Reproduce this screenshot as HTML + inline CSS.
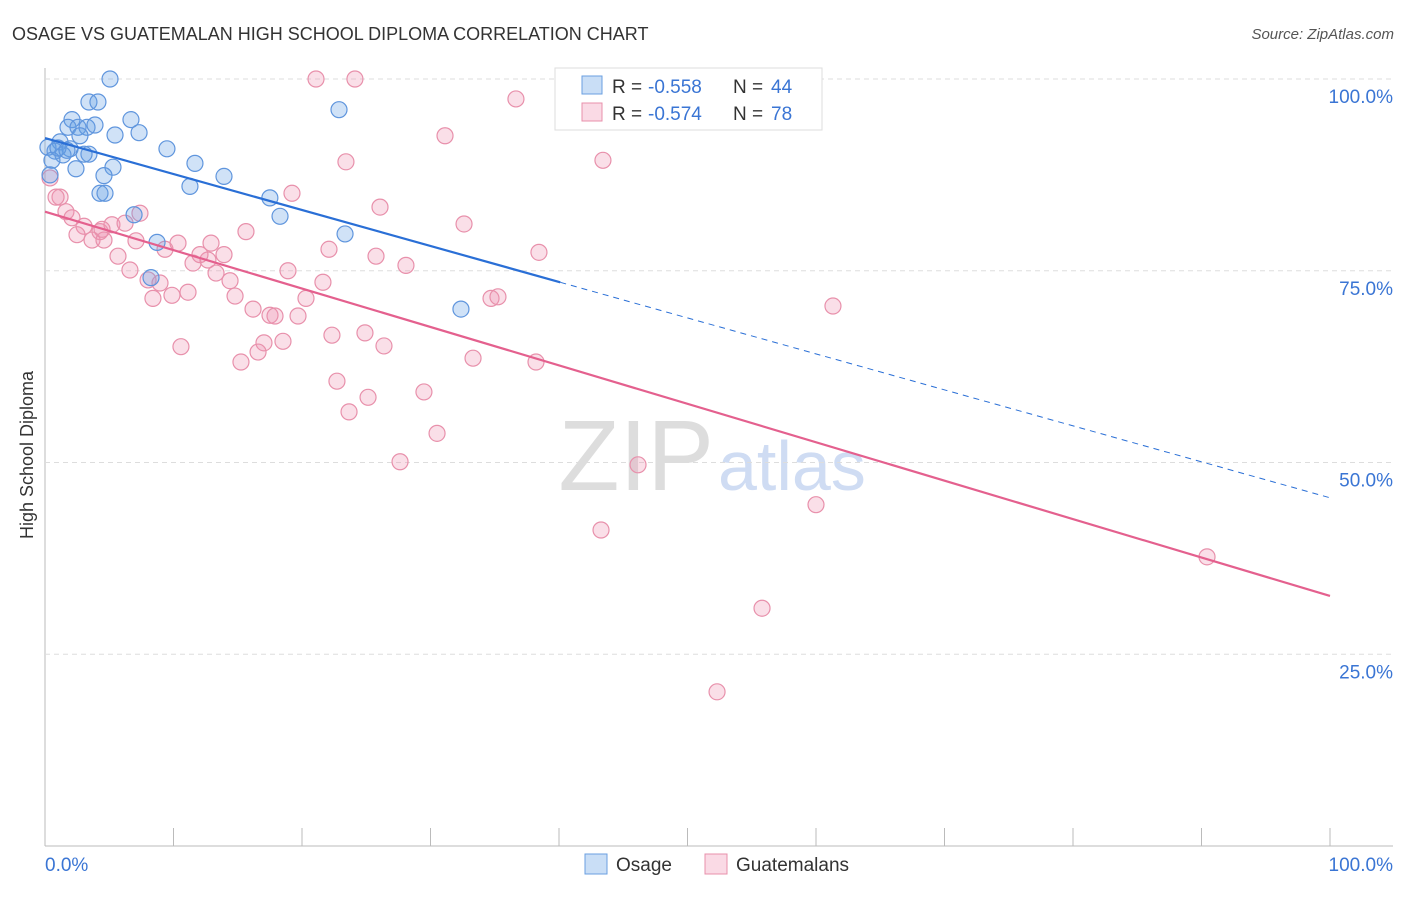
<!DOCTYPE html>
<html><head><meta charset="utf-8"><style>
body{margin:0;background:#fff;font-family:"Liberation Sans",sans-serif}
svg text{font-family:"Liberation Sans",sans-serif}
</style></head><body>
<svg id="c" width="1406" height="892">
<text x="12" y="40" font-size="18" fill="#333">OSAGE VS GUATEMALAN HIGH SCHOOL DIPLOMA CORRELATION CHART</text>
<text x="1394" y="39" font-size="15" fill="#555" text-anchor="end" font-style="italic">Source: ZipAtlas.com</text>
<text x="33" y="455" font-size="18" fill="#333" text-anchor="middle" transform="rotate(-90 33 455)">High School Diploma</text>
<text x="714" y="490" font-size="100" fill="#ddd" text-anchor="end" font-family="Liberation Serif">ZIP</text>
<text x="718" y="490" font-size="70" fill="#cfdcf3">atlas</text>
<g id="grid"></g><g id="pts"></g><g id="lines"></g>
<g>
<rect x="555" y="68" width="267" height="62" fill="#fff" stroke="#ddd"/>
<rect x="582" y="76" width="20" height="18" fill="rgba(100,160,230,0.35)" stroke="#6a9fe0"/>
<text x="612" y="93" font-size="19" fill="#333">R =</text>
<text x="648" y="93" font-size="19" fill="#3a75d4">-0.558</text>
<text x="733" y="93" font-size="19" fill="#333">N =</text>
<text x="771" y="93" font-size="19" fill="#3a75d4">44</text>
<rect x="582" y="103" width="20" height="18" fill="rgba(240,150,180,0.35)" stroke="#e890ab"/>
<text x="612" y="120" font-size="19" fill="#333">R =</text>
<text x="648" y="120" font-size="19" fill="#3a75d4">-0.574</text>
<text x="733" y="120" font-size="19" fill="#333">N =</text>
<text x="771" y="120" font-size="19" fill="#3a75d4">78</text>
</g>
<g>
<rect x="585" y="854" width="22" height="20" fill="rgba(100,160,230,0.35)" stroke="#6a9fe0"/>
<text x="616" y="871" font-size="19" fill="#333">Osage</text>
<rect x="705" y="854" width="22" height="20" fill="rgba(240,150,180,0.35)" stroke="#e890ab"/>
<text x="736" y="871" font-size="19" fill="#333">Guatemalans</text>
</g>
</svg>
<script>
const yTicks=[25,50,75,100];
const yTickLabels=["25.0%","50.0%","75.0%","100.0%"];
const xTickLabels=["0.0%","100.0%"];
const osageX=[5.06,3.42,4.12,2.10,6.69,1.79,2.57,3.27,3.89,2.72,5.45,7.32,1.17,9.49,0.23,1.95,0.78,1.40,3.42,11.67,2.41,5.29,0.54,4.59,13.93,11.28,4.28,4.67,17.5,18.29,6.93,23.35,8.72,8.25,32.37,22.88,0.39,1.01,3.04,1.71];
const osageY=[100,97.0,97.0,94.7,94.7,93.7,93.7,93.7,94.0,92.6,92.7,93.0,91.8,90.9,91.1,90.9,90.6,90.1,90.2,89.0,88.3,88.5,89.4,87.4,87.3,86.0,85.1,85.1,84.5,82.1,82.3,79.8,78.7,74.1,70.0,96.0,87.5,91.0,90.2,90.7];
const guatX=[21.09,24.12,36.65,31.13,43.42,23.42,19.22,1.17,26.07,32.61,1.63,2.10,3.04,4.28,5.21,6.23,7.39,2.49,3.66,4.59,7.08,9.34,10.35,12.92,15.64,22.10,25.76,28.09,38.44,11.52,12.68,13.93,12.06,5.68,6.61,13.31,18.91,21.63,8.02,8.95,14.40,8.40,9.88,11.13,14.79,16.19,17.51,17.90,19.69,20.31,34.71,35.25,61.32,22.33,24.90,26.38,18.52,17.04,16.58,10.58,15.25,33.31,38.21,22.72,25.14,29.49,23.66,30.51,27.63,46.15,60.0,43.27,55.80,52.30,90.43,0.39,0.86,4.44];
const guatY=[100,100,97.4,92.6,89.4,89.2,85.1,84.6,83.3,81.1,82.7,81.9,80.8,80.1,81.0,81.2,82.5,79.7,79.0,79.0,78.9,77.8,78.6,78.6,80.1,77.8,76.9,75.7,77.4,76.0,76.4,77.1,77.1,76.9,75.1,74.7,75.0,73.5,73.8,73.4,73.7,71.4,71.8,72.2,71.7,70.0,69.2,69.1,69.1,71.4,71.4,71.6,70.4,66.6,66.9,65.2,65.8,65.6,64.4,65.1,63.1,63.6,63.1,60.6,58.5,59.2,56.6,53.8,50.1,49.7,44.5,41.2,31.0,20.1,37.7,87.1,84.6,80.4];
const osageTrend=[92.3,45.4], osageSolidEnd=40.1;
const guatTrend=[82.7,32.6];
const sx=v=>45+v*12.85, sy=v=>846-v*7.67;
const NS="http://www.w3.org/2000/svg";
function mk(t,a,p){const e=document.createElementNS(NS,t);for(const k in a)e.setAttribute(k,a[k]);p.appendChild(e);return e;}
const grid=document.getElementById('grid');
let ax=mk('line',{x1:45,y1:68,x2:45,y2:846,stroke:'#bbb'},grid);

let bx=mk('line',{x1:45,y1:846,x2:1393,y2:846,stroke:'#bbb'},grid);

for(let i=1;i<=10;i++){const t=mk('line',{x1:sx(i*10),y1:828,x2:sx(i*10),y2:846,stroke:'#bbb'},grid);
}
yTicks.forEach((v,i)=>{const g=mk('line',{x1:45,y1:sy(v),x2:1393,y2:sy(v),stroke:'#ddd','stroke-dasharray':'5,4'},grid);

const t=mk('text',{x:1393,y:sy(v)+24,'font-size':19,fill:'#3a75d4','text-anchor':'end'},grid);t.textContent=yTickLabels[i];
});
[[0,'start',45],[1,'end',1393]].forEach(([i,a,x])=>{const t=mk('text',{x:x,y:871,'font-size':19,fill:'#3a75d4','text-anchor':a},grid);t.textContent=xTickLabels[i];
});
const pts=document.getElementById('pts');
guatX.forEach((x,i)=>{const c=mk('circle',{cx:sx(x),cy:sy(guatY[i]),r:8,fill:'rgba(240,150,180,0.3)',stroke:'#e890ab','stroke-width':1.2},pts);
});
osageX.forEach((x,i)=>{const c=mk('circle',{cx:sx(x),cy:sy(osageY[i]),r:8,fill:'rgba(100,160,230,0.3)',stroke:'#5f95dd','stroke-width':1.2},pts);
});
const L=document.getElementById('lines');
const oy=x=>osageTrend[0]+(osageTrend[1]-osageTrend[0])*x/100;
let l1=mk('line',{x1:sx(0),y1:sy(oy(0)),x2:sx(osageSolidEnd),y2:sy(oy(osageSolidEnd)),stroke:'#2a6fd6','stroke-width':2.2},L);

let l2=mk('line',{x1:sx(osageSolidEnd),y1:sy(oy(osageSolidEnd)),x2:sx(100),y2:sy(oy(100)),stroke:'#2a6fd6','stroke-width':1,'stroke-dasharray':'6,5'},L);

let l3=mk('line',{x1:sx(0),y1:sy(guatTrend[0]),x2:sx(100),y2:sy(guatTrend[1]),stroke:'#e4608e','stroke-width':2.2},L);

</script>
</body></html>
